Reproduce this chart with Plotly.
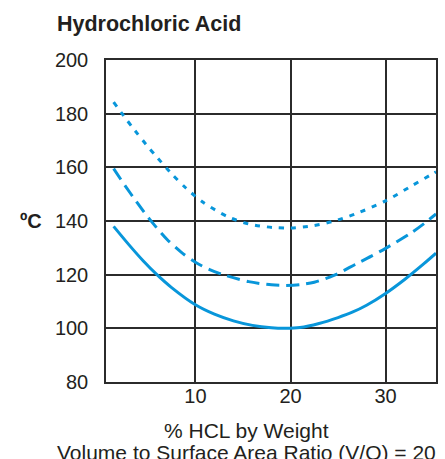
import plotly.graph_objects as go

# % HCl by weight vs. temperature (°C) for three curves
solid_x = [1.4, 3, 4.5, 5.9, 7.5, 10, 12, 14, 16, 18, 19.5, 21, 23, 25, 26.5, 28, 30, 32, 34, 35.3]
solid_y = [138, 131.2, 125.2, 120.2, 115.2, 108.8, 105.3, 102.8, 101.1, 100.2, 100, 100.3, 101.8, 104, 106, 108.6, 113, 118.2, 124, 128]

dashed_x = [1.4, 2.6, 3.8, 5.2, 7, 8.5, 10, 11.5, 13.2, 15.6, 18, 19.5, 21, 22.5, 24.5, 26.8, 28.5, 30, 32.7, 34.1, 35.3]
dashed_y = [159.5, 153.2, 147.2, 140.6, 133.2, 128.4, 124.6, 121.9, 119.7, 117.4, 116.2, 116, 116.3, 117.2, 119.6, 123.8, 126.9, 129.8, 135.6, 139.2, 142.6]

dotted_x = [1.4, 2.5, 3.6, 4.8, 6, 7.5, 9, 10.8, 13.4, 15.6, 18.1, 20, 22.3, 24.4, 26.8, 30, 32.7, 34.8, 35.3]
dotted_y = [184.3, 179, 173.9, 168.6, 163.6, 157.6, 152.3, 147, 141.6, 138.9, 137.6, 137.4, 138.2, 139.8, 142.6, 147.5, 153, 157.3, 158.3]

x_ticks = [10, 20, 30]
y_ticks = [80, 100, 120, 140, 160, 180, 200]

LINE_COLOR = "#0896da"
GRID_COLOR = "#2b2b2b"
TEXT_COLOR = "#231f20"
FONT = "Liberation Sans, Arial, sans-serif"

fig = go.Figure()
for xs, ys, dash in [
    (solid_x, solid_y, "solid"),
    (dashed_x, dashed_y, "13px,7px"),
    (dotted_x, dotted_y, "5px,7px"),
]:
    fig.add_trace(go.Scatter(
        x=xs, y=ys, mode="lines",
        line=dict(color=LINE_COLOR, width=3, dash=dash, shape="spline", smoothing=0.8),
        showlegend=False, hoverinfo="skip",
    ))

fig.update_layout(
    width=445, height=459,
    margin=dict(l=106, r=7, t=60, b=77),
    paper_bgcolor="white", plot_bgcolor="white",
    font=dict(family=FONT, color=TEXT_COLOR, size=20),
    title=dict(
        text="<b>Hydrochloric Acid</b>",
        x=57 / 445, xanchor="left", xref="container",
        y=1 - 23 / 459, yanchor="middle", yref="container",
        font=dict(family=FONT, size=21.5, color=TEXT_COLOR),
    ),
)

fig.update_xaxes(
    range=[0.6, 35.3], tickvals=x_ticks, ticktext=[str(v) for v in x_ticks],
    showgrid=True, gridcolor=GRID_COLOR, gridwidth=1.5,
    showline=True, linecolor=GRID_COLOR, linewidth=1.5, mirror=True,
    zeroline=False, ticks="", ticklabelstandoff=-5,
    tickfont=dict(size=20, color=TEXT_COLOR),
)
fig.update_yaxes(
    range=[80, 200], tickvals=y_ticks, ticktext=[str(v) for v in y_ticks],
    showgrid=True, gridcolor=GRID_COLOR, gridwidth=1.5,
    showline=True, linecolor=GRID_COLOR, linewidth=1.5, mirror=True,
    zeroline=False, ticks="", ticklabelstandoff=12,
    tickfont=dict(size=20, color=TEXT_COLOR),
)

# Axis titles drawn as annotations
fig.add_annotation(
    text="<b>ºC</b>", xref="paper", yref="y", x=-0.268, y=140,
    xanchor="left", yanchor="middle", showarrow=False,
    font=dict(family=FONT, size=20, color=TEXT_COLOR),
)
fig.add_annotation(
    text="% HCL by Weight", xref="paper", yref="paper", x=0.426, y=-0.150,
    xanchor="center", yanchor="middle", showarrow=False,
    font=dict(family=FONT, size=21, color=TEXT_COLOR),
)
fig.add_annotation(
    text="Volume to Surface Area Ratio (V/O) = 20", xref="paper", yref="paper",
    x=0.426, y=-0.2185, xanchor="center", yanchor="middle", showarrow=False,
    font=dict(family=FONT, size=21, color=TEXT_COLOR),
)

fig.write_html("out.html")
